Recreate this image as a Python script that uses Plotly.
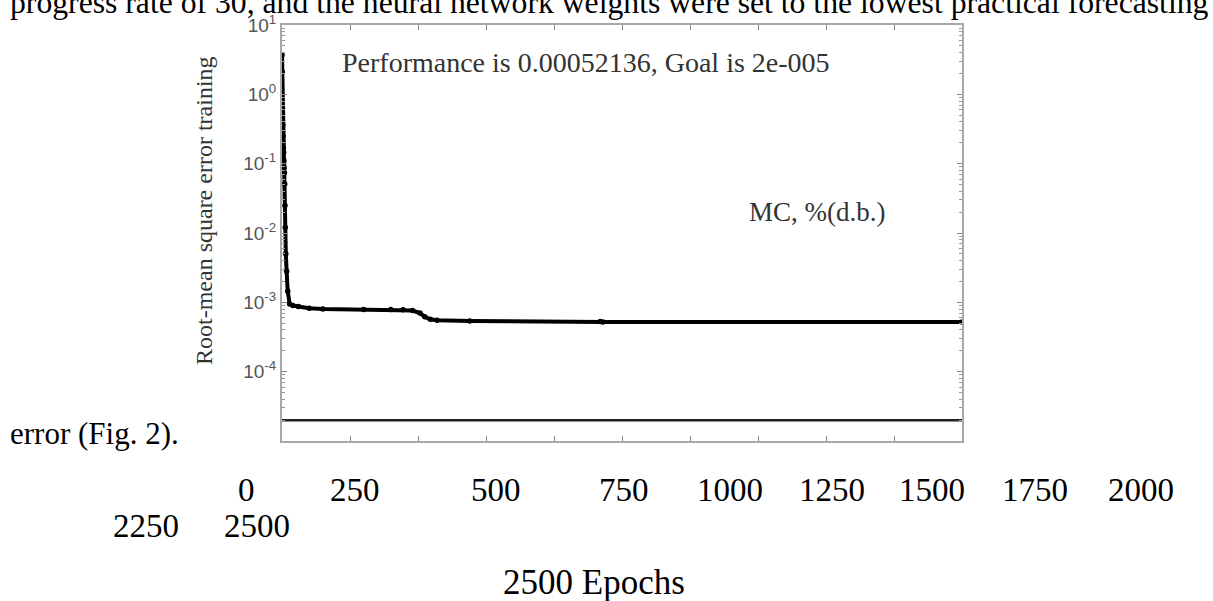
import plotly.graph_objects as go

# ---- data ----
epochs = [0, 1, 2, 3, 4, 5, 6, 7, 8, 9, 10, 11, 12, 14, 17, 21, 28, 40, 60, 100, 150,
          300, 400, 445, 480, 507, 525, 545, 570, 690, 1170, 1180, 2500]
rmse = [3.7, 2.1, 0.63, 0.36, 0.25, 0.17, 0.145, 0.11, 0.087, 0.074, 0.051, 0.025, 0.012,
        0.005, 0.0028, 0.00145, 0.00095, 0.00090, 0.00087, 0.00082, 0.00080,
        0.00079, 0.00079, 0.00078, 0.00076, 0.00070, 0.00062, 0.00057, 0.00055,
        0.00054, 0.00053, 0.000522, 0.00052136]
goal_epochs = [0, 2500]
goal_value = [2e-5, 2e-5]
x_tick_vals = [0, 250, 500, 750, 1000, 1250, 1500, 1750, 2000, 2250, 2500]
x_tick_labels = ["0", "250", "500", "750", "1000", "1250", "1500", "1750", "2000", "2250", "2500"]
y_tick_vals = [1e1, 1e0, 1e-1, 1e-2, 1e-3, 1e-4, 1e-5]
y_tick_labels = ["10<sup>1</sup>", "10<sup>0</sup>", "10<sup>-1</sup>", "10<sup>-2</sup>",
                 "10<sup>-3</sup>", "10<sup>-4</sup>", ""]

# ---- layout helpers (pixel geometry of the page) ----
W, H = 1213, 601
L, R, T, B = 282, 962, 25, 441


def px(x):
    return (x - L) / (R - L)


def py(y):
    return (B - y) / (B - T)


SERIF = "Liberation Serif, Times New Roman, serif"
SANS = "Liberation Sans, Arial, sans-serif"

fig = go.Figure()
fig.add_trace(go.Scatter(x=goal_epochs, y=goal_value, mode="lines",
                         line=dict(color="#222222", width=2.5), showlegend=False))
fig.add_trace(go.Scatter(x=epochs, y=rmse, mode="lines+markers",
                         line=dict(color="black", width=4),
                         marker=dict(color="black", size=5.5), showlegend=False))

axis_col = "#a8a8a8"
fig.update_xaxes(range=[0, 2500], tickvals=x_tick_vals, showticklabels=False,
                 ticks="inside", ticklen=5, tickcolor="#888888", tickwidth=1,
                 showline=True, linecolor=axis_col, linewidth=2, mirror="ticks",
                 showgrid=False, zeroline=False)
fig.update_yaxes(type="log", range=[-5, 1], tickvals=y_tick_vals, ticktext=y_tick_labels,
                 ticks="inside", ticklen=5, tickcolor="#888888", tickwidth=1,
                 minor=dict(ticks="inside", ticklen=3, tickcolor="#999999", dtick="D1"),
                 showline=True, linecolor=axis_col, linewidth=2, mirror="ticks",
                 showgrid=False, zeroline=False,
                 tickfont=dict(family=SANS, size=19, color="#555555"))

ann = []
# text of the surrounding document
ann.append(dict(text="progress rate of 30, and the neural network weights were set to the lowest practical forecasting",
                x=px(8), y=py(2), xanchor="left", yanchor="middle",
                font=dict(family=SERIF, size=31.7, color="black")))
ann.append(dict(text="error (Fig. 2).", x=px(8), y=py(433), xanchor="left", yanchor="middle",
                font=dict(family=SERIF, size=31, color="black")))
# chart texts
ann.append(dict(text="Performance is 0.00052136, Goal is 2e-005", x=px(586), y=py(62),
                xanchor="center", yanchor="middle", font=dict(family=SERIF, size=28, color="#333333")))
ann.append(dict(text="MC, %(d.b.)", x=px(817), y=py(212), xanchor="center", yanchor="middle",
                font=dict(family=SERIF, size=27, color="#333333")))
ann.append(dict(text="Root-mean square error training", x=px(204), y=py(211), textangle=-90,
                xanchor="center", yanchor="middle", font=dict(family=SERIF, size=24, color="#333333")))
# displaced x tick labels, as they appear in the page
label_pos = [(246, 490), (355, 490), (496, 490), (624, 490), (730, 490), (832, 490),
             (932, 490), (1035, 490), (1141, 490), (146, 526), (257, 526)]
for lab, (lx, ly) in zip(x_tick_labels, label_pos):
    ann.append(dict(text=lab, x=px(lx), y=py(ly), xanchor="center", yanchor="middle",
                    font=dict(family=SERIF, size=33, color="black")))
ann.append(dict(text=f"{x_tick_labels[-1]} Epochs", x=px(594), y=py(582), xanchor="center",
                yanchor="middle", font=dict(family=SERIF, size=35, color="black")))
for a in ann:
    a.update(xref="paper", yref="paper", showarrow=False)

fig.update_layout(width=W, height=H, margin=dict(l=L, r=W - R, t=T, b=H - B),
                  paper_bgcolor="white", plot_bgcolor="white", annotations=ann)
fig.write_html("out.html")
